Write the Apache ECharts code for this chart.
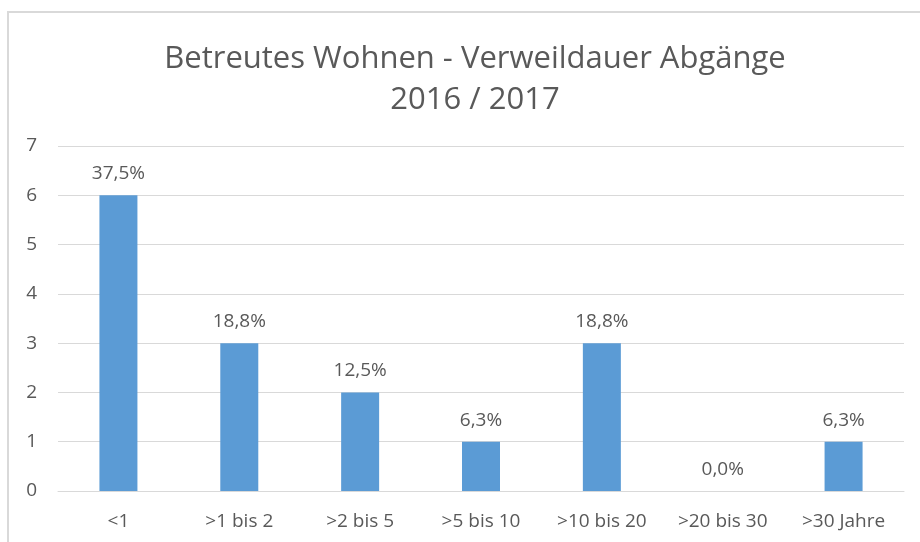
<!DOCTYPE html>
<html>
<head>
<meta charset="utf-8">
<script src="https://cdn.jsdelivr.net/npm/echarts@6/dist/echarts.min.js"></script>
<style>
  body { margin: 0; background: #fff; }
  #frame { position: absolute; left: 7px; top: 11px; width: 1000px; height: 600px; border: 2px solid #d9d9d9; }
  #chart { position: absolute; left: 0; top: 0; width: 920px; height: 542px; }
</style>
</head>
<body>
<div id="frame"></div>
<div id="chart"></div>
<script>
const categories = ['<1', '>1 bis 2', '>2 bis 5', '>5 bis 10', '>10 bis 20', '>20 bis 30', '>30 Jahre'];
const counts = [6, 3, 2, 1, 3, 0, 1];
const shares = ['37,5%', '18,8%', '12,5%', '6,3%', '18,8%', '0,0%', '6,3%'];
const yTicks = [0, 7, 1]; // min, max, interval

const chart = echarts.init(document.getElementById('chart'));
const font = '"Open Sans", Lato, sans-serif';

chart.setOption({
    animation: false,
    title: {
        text: 'Betreutes Wohnen - Verweildauer Abgänge\n2016 / 2017',
        left: 470,
        textAlign: 'center',
        top: 34,
        textStyle: { color: '#595959', fontSize: 31, fontWeight: 'normal', fontFamily: font, lineHeight: 41 }
    },
    grid: { left: 58, right: 16, top: 146, bottom: 51 },
    xAxis: {
        type: 'category',
        data: categories,
        axisLine: { lineStyle: { color: '#d9d9d9' } },
        axisTick: { show: false },
        axisLabel: { color: '#595959', fontSize: 19, fontFamily: font, margin: 21 }
    },
    yAxis: {
        type: 'value',
        min: yTicks[0],
        max: yTicks[1],
        interval: yTicks[2],
        axisLine: { show: false },
        axisTick: { show: false },
        splitLine: { lineStyle: { color: '#d9d9d9' } },
        axisLabel: { color: '#595959', fontSize: 19, fontFamily: font, margin: 21 }
    },
    series: [{
        type: 'bar',
        data: counts,
        barWidth: 38,
        itemStyle: { color: '#5b9bd5' },
        label: {
            show: true,
            position: 'top',
            distance: 12,
            color: '#595959',
            fontSize: 19,
            fontFamily: font,
            formatter: p => shares[p.dataIndex]
        }
    }]
});
</script>
</body>
</html>
